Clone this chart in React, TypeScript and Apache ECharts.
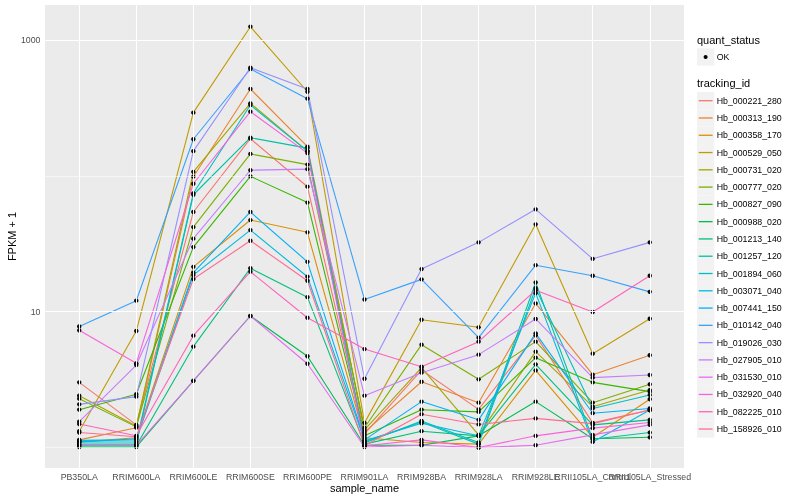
import React, { useEffect, useRef } from 'react';
import * as echarts from 'echarts';

const sampleNames = [
  'PB350LA', 'RRIM600LA', 'RRIM600LE', 'RRIM600SE', 'RRIM600PE', 'RRIM901LA',
  'RRIM928BA', 'RRIM928LA', 'RRIM928LE', 'RRII105LA_Control', 'RRII105LA_Stressed',
];

const trackingIds = [
  'Hb_000221_280', 'Hb_000313_190', 'Hb_000358_170', 'Hb_000529_050', 'Hb_000731_020',
  'Hb_000777_020', 'Hb_000827_090', 'Hb_000988_020', 'Hb_001213_140', 'Hb_001257_120',
  'Hb_001894_060', 'Hb_003071_040', 'Hb_007441_150', 'Hb_010142_040', 'Hb_019026_030',
  'Hb_027905_010', 'Hb_031530_010', 'Hb_032920_040', 'Hb_082225_010', 'Hb_158926_010',
];

const seriesColors = [
  '#F8766D', '#EA8331', '#D89000', '#C09B00', '#A3A500', '#7CAE00', '#39B600', '#00BB4E',
  '#00BF7D', '#00C1A3', '#00BFC4', '#00BAE0', '#00B0F6', '#35A2FF', '#9590FF', '#C77CFF',
  '#E76BF3', '#FA62DB', '#FF62BC', '#FF6C91',
];

// FPKM + 1 per sample (order of sampleNames)
const hb_000221_280 = [3.02, 1.47, 54.2, 187.7, 83.2, 1.26, 3.72, 1.91, 6.7, 1.52, 1.89];
const hb_000313_190 = [1.14, 1.4, 98.6, 436, 164, 1.3, 3.05, 2.14, 11.5, 3.44, 4.78];
const hb_000358_170 = [1.1, 1.18, 21.4, 47.3, 38.4, 1.18, 1.09, 1.06, 3.7, 1.19, 2.27];
const hb_000529_050 = [1.32, 7.21, 292, 1253, 416, 1.52, 8.73, 7.68, 44.0, 4.91, 8.88];
const hb_000731_020 = [2.41, 1.44, 107, 342, 152, 1.35, 3.87, 1.24, 5.08, 2.0, 2.65];
const hb_000777_020 = [2.29, 1.42, 42.0, 145, 121, 1.4, 5.72, 3.18, 6.02, 2.14, 2.92];
const hb_000827_090 = [1.9, 2.47, 29.9, 99.2, 63.6, 1.22, 1.9, 1.83, 4.59, 3.02, 2.58];
const hb_000988_020 = [1.01, 1.01, 3.1, 9.3, 4.7, 1.04, 1.04, 1.22, 2.18, 1.16, 1.19];
const hb_001213_140 = [1.03, 1.03, 5.53, 20.9, 12.8, 1.06, 1.32, 1.22, 4.1, 1.47, 1.6];
const hb_001257_120 = [1.06, 1.06, 72.6, 191, 160, 1.08, 1.57, 1.09, 16.4, 1.15, 1.29];
const hb_001894_060 = [1.1, 1.1, 74.4, 332, 152, 1.1, 1.54, 1.06, 14.9, 1.94, 2.44];
const hb_003071_040 = [1.13, 1.14, 18.6, 39.9, 18.1, 1.12, 1.51, 1.22, 13.7, 1.1, 1.89];
const hb_007441_150 = [1.1, 1.16, 19.4, 54.2, 23.3, 1.14, 2.18, 1.6, 6.93, 1.79, 1.94];
const hb_010142_040 = [7.78, 12.05, 186, 612, 370, 12.3, 17.3, 6.44, 22.0, 18.4, 14.0];
const hb_019026_030 = [2.08, 2.37, 152, 625, 436, 3.21, 20.6, 32.4, 56.7, 24.5, 32.4];
const hb_027905_010 = [1.55, 4.05, 34.5, 110, 112, 2.41, 3.56, 4.83, 8.84, 3.27, 3.42];
const hb_031530_010 = [1.05, 1.04, 3.1, 9.3, 4.14, 1.01, 1.04, 1.0, 1.04, 1.24, 1.47];
const hb_032920_040 = [7.3, 4.17, 87.5, 297, 147, 1.03, 1.14, 1.0, 1.22, 1.39, 1.53];
const hb_082225_010 = [1.49, 1.22, 6.66, 19.7, 9.03, 5.31, 3.94, 6.02, 14.4, 9.95, 18.4];
const hb_158926_010 = [1.29, 1.2, 17.4, 33.3, 16.9, 1.03, 1.76, 1.48, 1.64, 1.5, 1.89];

const seriesValues = [
  hb_000221_280, hb_000313_190, hb_000358_170, hb_000529_050, hb_000731_020,
  hb_000777_020, hb_000827_090, hb_000988_020, hb_001213_140, hb_001257_120,
  hb_001894_060, hb_003071_040, hb_007441_150, hb_010142_040, hb_019026_030,
  hb_027905_010, hb_031530_010, hb_032920_040, hb_082225_010, hb_158926_010,
];

const yBreaks = [10, 1000];
const yMinorBreaks = [1, 100];
const yLimits = [0.7073, 1810];

const FONT = 'Liberation Sans, Arial, Helvetica, sans-serif';

export default function App() {
  const ref = useRef<HTMLDivElement>(null);

  useEffect(() => {
    const chart = echarts.init(ref.current!, null, { renderer: 'svg' });
    const lg = (v: number) => Math.log10(v);

    const lineSeries = seriesValues.map((vals, s) => ({
      type: 'line',
      name: trackingIds[s],
      data: vals.map((v, i) => [i, lg(v)]),
      showSymbol: false,
      symbol: 'none',
      lineStyle: { color: seriesColors[s], width: 1.1 },
      itemStyle: { color: seriesColors[s] },
      z: 2,
      silent: true,
    }));

    const pointData: number[][] = [];
    seriesValues.forEach((vals) => vals.forEach((v, i) => pointData.push([i, lg(v)])));

    const gridLines = {
      type: 'line',
      data: [],
      z: 1,
      silent: true,
      markLine: {
        silent: true,
        symbol: ['none', 'none'],
        label: { show: false },
        animation: false,
        lineStyle: { color: '#FFFFFF', type: 'solid', width: 1.1 },
        data: [
          ...yMinorBreaks.map((b) => ({ yAxis: lg(b), lineStyle: { color: '#FFFFFF', type: 'solid', width: 0.55 } })),
          ...yBreaks.map((b) => ({ yAxis: lg(b), lineStyle: { color: '#FFFFFF', type: 'solid', width: 1.1 } })),
          ...sampleNames.map((_, i) => ({ xAxis: i, lineStyle: { color: '#FFFFFF', type: 'solid', width: 1.1 } })),
        ],
      },
    };

    const legendChildren: any[] = [];
    legendChildren.push({
      type: 'text', left: 697, top: 34,
      style: { text: 'quant_status', font: `11px ${FONT}`, fill: '#000000' },
    });
    legendChildren.push({
      type: 'rect', shape: { x: 697, y: 48.3, width: 17.3, height: 17.3 },
      style: { fill: '#F2F2F2' },
    });
    legendChildren.push({
      type: 'circle', shape: { cx: 705.6, cy: 57, r: 2 },
      style: { fill: '#000000' },
    });
    legendChildren.push({
      type: 'text', x: 716.7, y: 57,
      style: { text: 'OK', font: `8.8px ${FONT}`, fill: '#000000', textVerticalAlign: 'middle' },
    });
    legendChildren.push({
      type: 'text', left: 697, top: 77.5,
      style: { text: 'tracking_id', font: `11px ${FONT}`, fill: '#000000' },
    });
    trackingIds.forEach((id, k) => {
      const cy = 100.7 + k * 17.28;
      legendChildren.push({
        type: 'rect', shape: { x: 697, y: cy - 8.64, width: 17.3, height: 17.28 },
        style: { fill: '#F2F2F2' },
      });
      legendChildren.push({
        type: 'line', shape: { x1: 698.7, y1: cy, x2: 712.6, y2: cy },
        style: { stroke: seriesColors[k], lineWidth: 1.3 },
      });
      legendChildren.push({
        type: 'text', x: 716.7, y: cy,
        style: { text: id, font: `8.8px ${FONT}`, fill: '#000000', textVerticalAlign: 'middle' },
      });
    });

    const allIdx = sampleNames.map((_, i) => i);
    const evenIdx = allIdx.filter((i) => i % 2 === 0);
    const oddIdx = allIdx.filter((i) => i % 2 === 1);

    const makeXAxis = (labelIdx: number[], showTicks: boolean) => ({
      type: 'value',
      min: -0.6,
      max: 10.6,
      position: 'bottom',
      offset: 0,
      axisLine: { show: false },
      splitLine: { show: false },
      axisTick: {
        show: showTicks, length: 2.7, customValues: allIdx,
        lineStyle: { color: '#333333', width: 1 },
      },
      axisLabel: {
        customValues: labelIdx,
        formatter: (v: number) => sampleNames[Math.round(v)] ?? '',
        color: '#4D4D4D', fontSize: 8.8, margin: 4.5, fontFamily: FONT,
        hideOverlap: false, showMinLabel: true, showMaxLabel: true,
      },
    });

    const option: any = {
      animation: false,
      textStyle: { fontFamily: FONT },
      grid: {
        left: 45, right: 116, top: 5, bottom: 32,
        show: true, backgroundColor: '#EBEBEB', borderWidth: 0,
      },
      xAxis: [makeXAxis(evenIdx, true), makeXAxis(oddIdx, false)],
      yAxis: {
        type: 'value',
        min: lg(yLimits[0]),
        max: lg(yLimits[1]),
        axisLine: { show: false },
        splitLine: { show: false },
        axisTick: {
          show: true, length: 2.7, customValues: yBreaks.map(lg),
          lineStyle: { color: '#333333', width: 1 },
        },
        axisLabel: {
          customValues: yBreaks.map(lg),
          formatter: (v: number) => String(Math.round(Math.pow(10, v))),
          color: '#4D4D4D', fontSize: 8.8, margin: 4.5, fontFamily: FONT,
        },
      },
      graphic: [
        {
          type: 'text', x: 364.5, y: 488,
          style: { text: 'sample_name', font: `11px ${FONT}`, fill: '#000000', textAlign: 'center', textVerticalAlign: 'middle' },
        },
        {
          type: 'text', x: 12, y: 236.5, rotation: Math.PI / 2,
          style: { text: 'FPKM + 1', font: `11px ${FONT}`, fill: '#000000', textAlign: 'center', textVerticalAlign: 'middle' },
        },
        ...legendChildren,
      ],
      series: [
        gridLines,
        ...lineSeries,
        {
          type: 'scatter',
          data: pointData,
          symbol: 'circle',
          symbolSize: 4.4,
          itemStyle: { color: '#000000', borderWidth: 0, opacity: 1 },
          z: 3,
          silent: true,
        },
      ],
    };

    chart.setOption(option);
    return () => chart.dispose();
  }, []);

  return <div ref={ref} style={{ position: 'fixed', left: 0, top: 0, width: 800, height: 500 }} />;
}
